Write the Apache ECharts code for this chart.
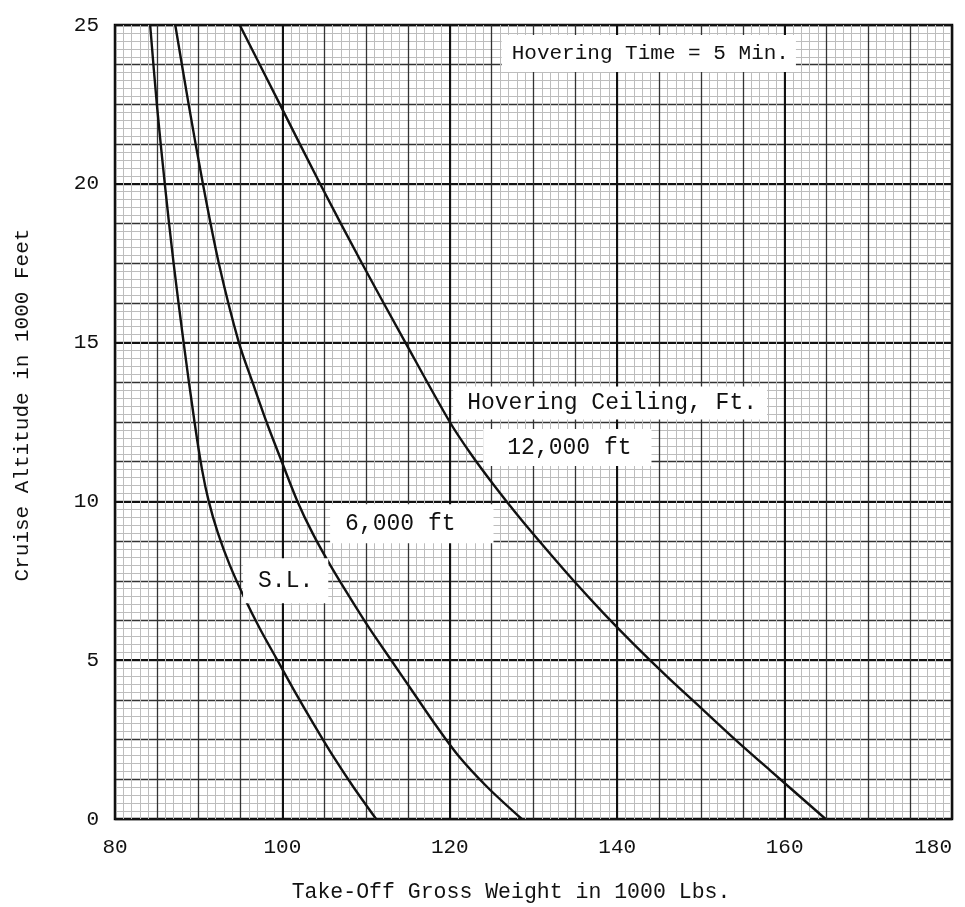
<!DOCTYPE html>
<html>
<head>
<meta charset="utf-8">
<script src="https://cdn.jsdelivr.net/npm/echarts@6/dist/echarts.min.js"></script>
<style>
html, body { margin: 0; padding: 0; background: #fff; }
#chart { width: 965px; height: 907px; }
</style>
</head>
<body>
<div id="chart"></div>
<script>
// 数据 ==========================================
// x = take-off gross weight (1000 lb), y = cruise altitude (1000 ft)
const seaLevel = [
    [84.2, 25], [85.0, 22.5], [85.95, 20], [87.0, 17.5], [88.2, 15],
    [89.5, 12.5], [90.4, 11], [91.2, 10], [92.3, 9], [93.7, 8],
    [95.4, 7], [97.3, 6], [99.4, 5], [101.5, 4], [103.7, 3],
    [106.0, 2], [108.5, 1], [111.2, 0]
];
const ceiling6000 = [
    [87.2, 25], [88.8, 22.5], [90.5, 20], [92.4, 17.5], [94.8, 15],
    [96.5, 13.7], [98.1, 12.5], [100.0, 11.2], [101.8, 10], [103.6, 9],
    [105.7, 8], [108.0, 7], [110.4, 6], [113.0, 5], [115.6, 4],
    [118.2, 3], [121.0, 2], [124.5, 1], [128.6, 0]
];
const ceiling12000 = [
    [94.9, 25], [99.7, 22.5], [104.5, 20], [109.5, 17.5], [114.7, 15],
    [120.0, 12.5], [122.5, 11.5], [125.3, 10.5], [128.3, 9.5], [131.5, 8.5],
    [134.8, 7.5], [138.3, 6.5], [142.0, 5.5], [145.9, 4.5], [150.0, 3.5],
    [154.1, 2.5], [158.4, 1.5], [164.9, 0]
];
const xRange = [80, 180];
const yRange = [0, 25];

// 注释文字 (data coords of box left edge / vertical centre)
const notes = [
    { text: 'Hovering Time = 5 Min.', at: [126.2, 24.1], size: 21, pad: [8, 7, 8, 10] },
    { text: 'Hovering Ceiling, Ft.', at: [120.4, 13.1], size: 23, pad: [5, 10, 5, 14] },
    { text: '12,000 ft', at: [124.0, 11.7], size: 23, pad: [7, 20, 7, 24] },
    { text: '6,000 ft', at: [105.7, 9.3], size: 23, pad: [8, 38, 8, 15] },
    { text: 'S.L.', at: [95.3, 7.5], size: 23, pad: [11, 15, 11, 15] }
];

const FONT = '"Liberation Mono", "DejaVu Sans Mono", monospace';
const chart = echarts.init(document.getElementById('chart'));

function curve(name, data) {
    return {
        name: name,
        type: 'line',
        xAxisIndex: 1,
        yAxisIndex: 1,
        data: data,
        smooth: 0.3,
        showSymbol: false,
        lineStyle: { color: '#111', width: 2.4 },
        z: 5
    };
}

chart.setOption({
    animation: false,
    grid: {
        left: 115, right: 13, top: 25, bottom: 88,
        outerBoundsMode: 'none',
        show: true, borderColor: '#000', borderWidth: 2.5
    },
    xAxis: [{
        // fine graph paper grid
        type: 'value', min: xRange[0], max: xRange[1], interval: 5,
        position: 'bottom',
        axisLine: { show: false }, axisTick: { show: false }, axisLabel: { show: false },
        splitLine: { lineStyle: { color: '#333', width: 1.3 } },
        minorTick: { show: false, splitNumber: 5 },
        minorSplitLine: { show: true, lineStyle: { color: '#bdbdbd', width: 1 } }
    }, {
        type: 'value', min: xRange[0], max: xRange[1], interval: 20,
        position: 'bottom',
        axisLine: { show: false }, axisTick: { show: false },
        axisLabel: {
            margin: 18, color: '#111', fontSize: 21, fontFamily: FONT,
            alignMaxLabel: 'right'
        },
        splitLine: { lineStyle: { color: '#111', width: 2 } }
    }],
    yAxis: [{
        type: 'value', min: yRange[0], max: yRange[1], interval: 1.25,
        axisLine: { show: false }, axisTick: { show: false }, axisLabel: { show: false },
        splitLine: { lineStyle: { color: '#333', width: 1.3 } },
        minorTick: { show: false, splitNumber: 5 },
        minorSplitLine: { show: true, lineStyle: { color: '#bdbdbd', width: 1 } }
    }, {
        type: 'value', min: yRange[0], max: yRange[1], interval: 5,
        position: 'left',
        axisLine: { show: false }, axisTick: { show: false },
        axisLabel: { margin: 16, color: '#111', fontSize: 21, fontFamily: FONT },
        splitLine: { lineStyle: { color: '#111', width: 2 } }
    }],
    series: [
        curve('S.L.', seaLevel),
        curve('6,000 ft', ceiling6000),
        curve('12,000 ft', ceiling12000)
    ]
});

// 注释与轴标题
const graphics = notes.map(n => {
    const p = chart.convertToPixel({ gridIndex: 0 }, n.at);
    return {
        type: 'text', x: p[0], y: p[1], z: 10,
        style: {
            text: n.text, fill: '#111', font: n.size + 'px ' + FONT,
            align: 'left', verticalAlign: 'middle',
            backgroundColor: '#fff', padding: n.pad
        }
    };
});
graphics.push({
    type: 'text', x: 511, y: 892, z: 10,
    style: {
        text: 'Take-Off Gross Weight in 1000 Lbs.', fill: '#111',
        font: '21.5px ' + FONT, align: 'center', verticalAlign: 'middle'
    }
});
graphics.push({
    type: 'text', x: 22, y: 405, rotation: Math.PI / 2, z: 10,
    style: {
        text: 'Cruise Altitude in 1000 Feet', fill: '#111',
        font: '21px ' + FONT, align: 'center', verticalAlign: 'middle'
    }
});
chart.setOption({ graphic: graphics });
</script>
</body>
</html>
